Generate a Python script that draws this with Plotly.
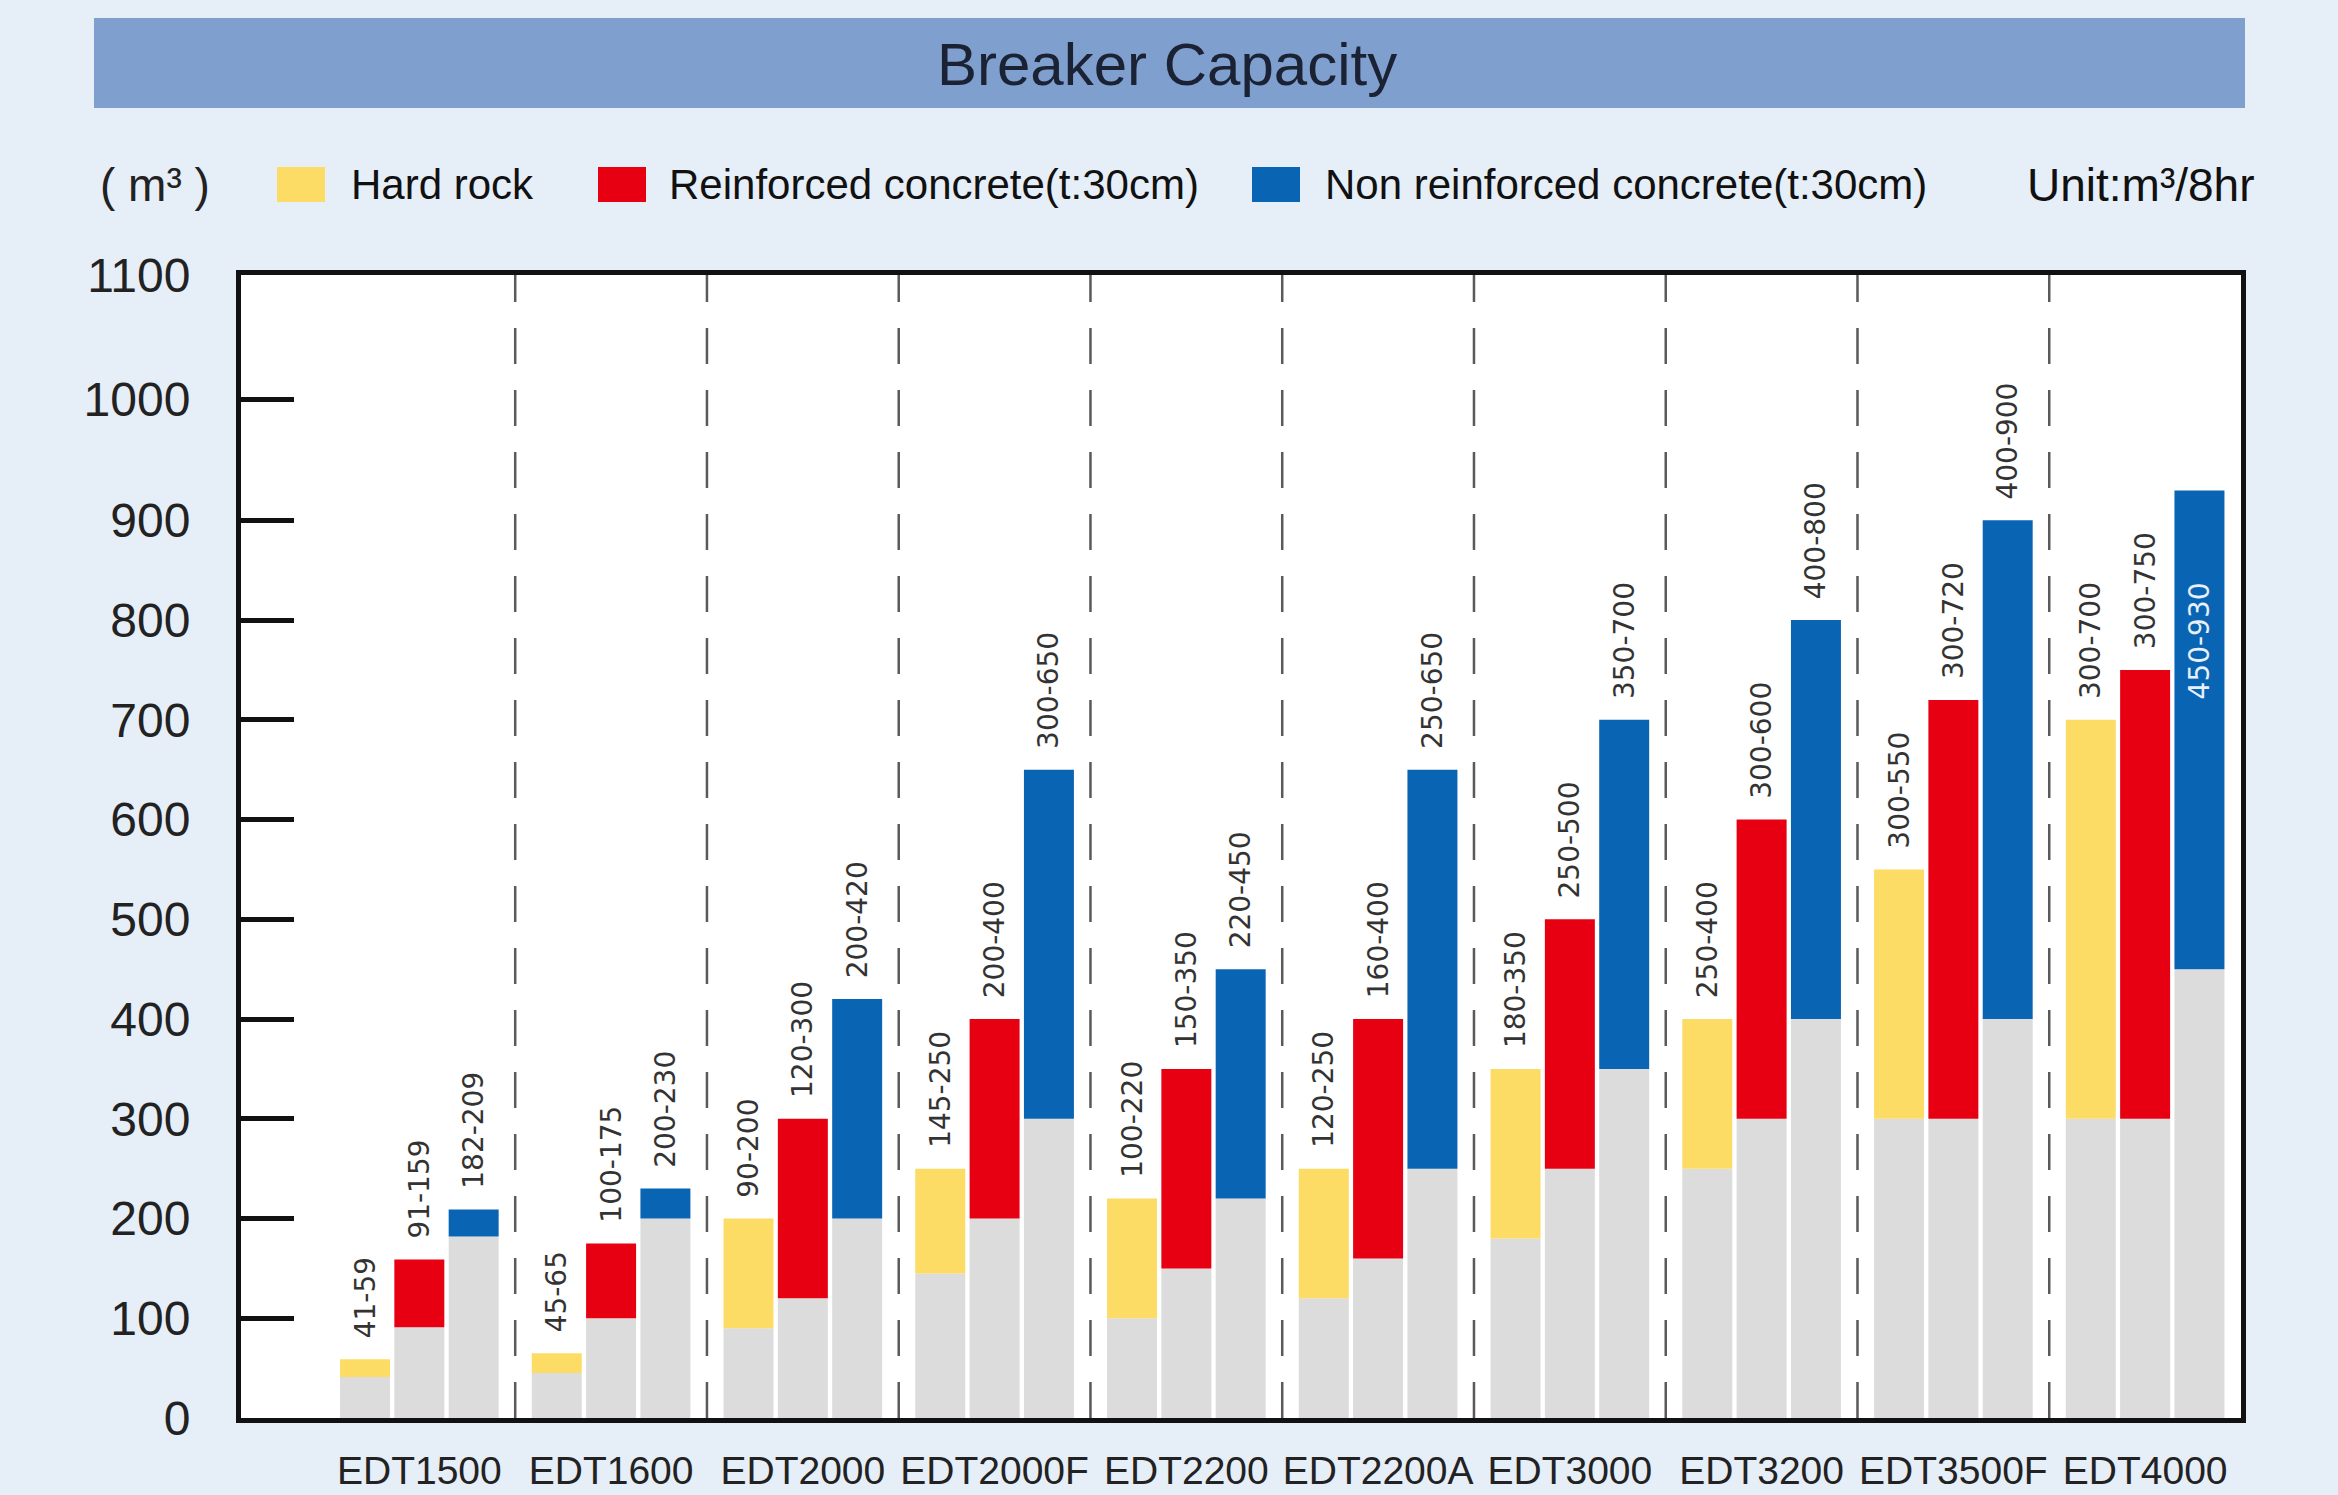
import plotly.graph_objects as go

# ---------------- data ----------------
CATEGORIES = ["EDT1500", "EDT1600", "EDT2000", "EDT2000F", "EDT2200",
              "EDT2200A", "EDT3000", "EDT3200", "EDT3500F", "EDT4000"]
HARD_LOW = [41, 45, 90, 145, 100, 120, 180, 250, 300, 300]
HARD_HIGH = [59, 65, 200, 250, 220, 250, 350, 400, 550, 700]
REINF_LOW = [91, 100, 120, 200, 150, 160, 250, 300, 300, 300]
REINF_HIGH = [159, 175, 300, 400, 350, 400, 500, 600, 720, 750]
NONREINF_LOW = [182, 200, 200, 300, 220, 250, 350, 400, 400, 450]
NONREINF_HIGH = [209, 230, 420, 650, 450, 650, 700, 800, 900, 930]
SERIES_NAMES = ["Hard rock", "Reinforced concrete(t:30cm)",
                "Non reinforced concrete(t:30cm)"]
Y_TICK_LABELS = ["0", "100", "200", "300", "400", "500", "600", "700",
                 "800", "900", "1000", "1100"]
TITLE = "Breaker Capacity"
UNIT_LEFT = "( m³ )"
UNIT_RIGHT = "Unit:m³/8hr"

# ---------------- styling ----------------
W, H = 2338, 1495
L, R, T, B = 241, 2241, 275, 1418
BG = "#E6EEF8"
BAND = "#7F9FCF"
GRAY = "#DCDCDC"
COLORS = ["#FDDC66", "#E60012", "#0A64B4"]
# the reference axis stretches its two top ticks
Y_TICK_POS = [0, 100, 200, 300, 400, 500, 600, 700, 800, 900, 1021, 1146]
Y_RANGE = [0, 1146]
SANS = "Liberation Sans, Arial, sans-serif"
NBSP = "\u00a0"


def px_x(p):
    return (p - L) / (R - L)


def px_y(p):
    return (B - p) / (B - T)


fig = go.Figure()
series = [(HARD_LOW, HARD_HIGH), (REINF_LOW, REINF_HIGH),
          (NONREINF_LOW, NONREINF_HIGH)]
for k, (lo, hi) in enumerate(series):
    og = f"g{k}"
    fig.add_trace(go.Bar(
        x=CATEGORIES, y=lo, marker=dict(color=GRAY, line=dict(width=0)),
        offsetgroup=og, showlegend=False, hoverinfo="skip"))
    labels = [f"{a}-{b}" for a, b in zip(lo, hi)]
    n = len(labels)
    positions = ["outside"] * n
    tcolors = ["#333333"] * n
    texts = [NBSP * 2 + s for s in labels]
    if k == 2:
        # last blue bar carries its label inside, in white
        positions[-1] = "inside"
        tcolors[-1] = "#E8F0FA"
        texts[-1] = labels[-1] + NBSP * 10
    fig.add_trace(go.Bar(
        x=CATEGORIES, y=[b - a for a, b in zip(lo, hi)], base=lo,
        marker=dict(color=COLORS[k], line=dict(width=0)),
        offsetgroup=og, name=SERIES_NAMES[k], showlegend=False,
        text=texts, textposition=positions, textangle=-90,
        insidetextanchor="end", constraintext="none", cliponaxis=False,
        textfont=dict(family="DejaVu Sans, sans-serif", size=28,
                      color=tcolors)))

shapes = []
# dashed separators between model groups
for i in range(len(CATEGORIES) - 1):
    shapes.append(dict(type="line", xref="x", yref="paper",
                       x0=i + 0.5, x1=i + 0.5, y0=0, y1=1, layer="below",
                       line=dict(color="#5A5A5A", width=2.5,
                                 dash="36px,26px")))
# title band
shapes.append(dict(type="rect", xref="paper", yref="paper",
                   x0=px_x(94), x1=px_x(2245), y0=px_y(108), y1=px_y(18),
                   fillcolor=BAND, line=dict(width=0), layer="below"))
# legend swatches
sw_x = [277, 598, 1252]
for k in range(3):
    shapes.append(dict(type="rect", xref="paper", yref="paper",
                       x0=px_x(sw_x[k]), x1=px_x(sw_x[k] + 48),
                       y0=px_y(202), y1=px_y(167),
                       fillcolor=COLORS[k], line=dict(width=0)))

annotations = [
    dict(text=TITLE, xref="paper", yref="paper", x=px_x(1167), y=px_y(64),
         xanchor="center", yanchor="middle", showarrow=False,
         font=dict(family=SANS, size=60, color="#1B2233")),
    dict(text=UNIT_LEFT, xref="paper", yref="paper", x=px_x(155),
         y=px_y(185), xanchor="center", yanchor="middle", showarrow=False,
         font=dict(family=SANS, size=46, color="#222222")),
    dict(text=UNIT_RIGHT, xref="paper", yref="paper", x=px_x(2256),
         y=px_y(185), xanchor="right", yanchor="middle", showarrow=False,
         font=dict(family=SANS, size=46, color="#111111")),
]
txt_x = [349, 667, 1323]
for k in range(3):
    annotations.append(dict(
        text=SERIES_NAMES[k], xref="paper", yref="paper", x=px_x(txt_x[k]),
        y=px_y(185), xanchor="left", yanchor="middle", showarrow=False,
        font=dict(family=SANS, size=42, color="#111111")))

fig.update_layout(
    width=W, height=H,
    margin=dict(l=L, r=W - R, t=T, b=H - B, autoexpand=False),
    paper_bgcolor=BG, plot_bgcolor="white",
    barmode="group", bargap=0.15, bargroupgap=0.08,
    showlegend=False,
    shapes=shapes, annotations=annotations,
    xaxis=dict(type="category", range=[-0.93, 9.5], showgrid=False,
               zeroline=False, ticks="", showline=True, mirror=True,
               linewidth=5, linecolor="#111111", automargin=False,
               tickfont=dict(family=SANS, size=39, color="#222222"),
               ticklabelstandoff=14),
    yaxis=dict(range=Y_RANGE, tickvals=Y_TICK_POS, ticktext=Y_TICK_LABELS,
               showgrid=False, zeroline=False, ticks="inside", ticklen=53,
               tickwidth=5, tickcolor="#111111", showline=True, mirror=True,
               linewidth=5, linecolor="#111111", automargin=False,
               tickfont=dict(family=SANS, size=48, color="#222222"),
               ticklabelstandoff=36),
)

fig.write_html(
    "out.html",
    config={"displayModeBar": False},
    post_script=("document.body.style.margin='0';"
                 "document.body.style.overflow='hidden';"
                 "document.body.style.background='" + BG + "';"))
